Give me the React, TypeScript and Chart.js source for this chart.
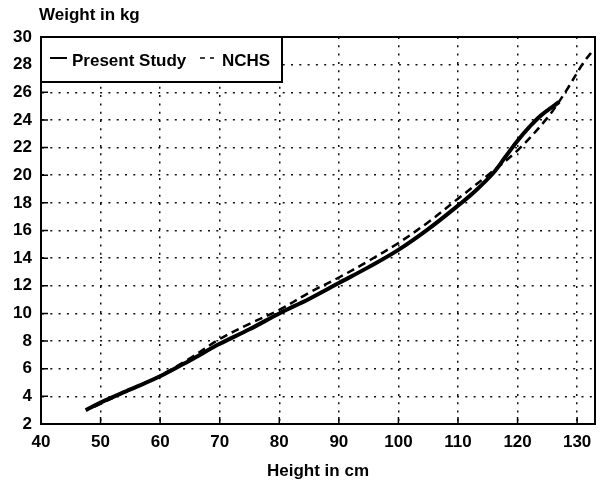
import React, { useEffect, useRef } from "react";
import { Chart, registerables } from "chart.js";

Chart.register(...registerables);

const studyHeights = [47.5, 50, 55, 60, 65, 70, 75, 80, 85, 90, 95, 100, 105, 110, 113, 116, 118, 120, 122, 124, 127];
const studyWeights = [3.0, 3.55, 4.5, 5.45, 6.6, 7.8, 8.85, 10.0, 11.05, 12.2, 13.35, 14.6, 16.1, 17.8, 18.9, 20.2, 21.35, 22.5, 23.5, 24.35, 25.3];

const nchsHeights = [49, 55, 60, 65, 70, 75, 80, 85, 90, 95, 100, 105, 110, 115, 120, 125, 128, 131, 132.8];
const nchsWeights = [3.25, 4.5, 5.5, 6.75, 8.15, 9.25, 10.25, 11.5, 12.6, 13.8, 15.1, 16.6, 18.3, 20.0, 21.8, 24.15, 26.0, 28.1, 29.1];

const xRange = [40, 133];
const yRange = [2, 30];
const xStep = 10;
const yStep = 2;

const legendLabels = ["Present Study", "NCHS"];
const xTitle = "Height in cm";
const yTitle = "Weight in kg";

const FONT_FAMILY = '"Liberation Sans", Arial, Helvetica, sans-serif';
const FONT = `bold 17px ${FONT_FAMILY}`;

const decorPlugin = {
  id: "decor",
  afterDraw(chart: any) {
    const ctx = chart.ctx as CanvasRenderingContext2D;
    const { left, right, top, bottom } = chart.chartArea;
    const xs = chart.scales.x;
    const ys = chart.scales.y;
    ctx.save();
    ctx.strokeStyle = "#000";
    ctx.fillStyle = "#000";
    ctx.setLineDash([]);

    // inner tick marks
    ctx.lineWidth = 1.5;
    ctx.beginPath();
    for (let v = yRange[0]; v <= yRange[1]; v += yStep) {
      const py = ys.getPixelForValue(v);
      ctx.moveTo(left, py);
      ctx.lineTo(left + 7, py);
    }
    for (let v = xRange[0]; v <= xRange[1]; v += xStep) {
      const px = xs.getPixelForValue(v);
      ctx.moveTo(px, bottom);
      ctx.lineTo(px, bottom - 7);
    }
    ctx.stroke();

    // frame
    ctx.lineWidth = 2;
    ctx.strokeRect(left, top, right - left, bottom - top);

    // legend box
    const lx = left, ly = top, lw = 241, lh = 45;
    ctx.fillStyle = "#fff";
    ctx.fillRect(lx, ly, lw, lh);
    ctx.fillStyle = "#000";
    ctx.lineWidth = 2;
    ctx.strokeRect(lx, ly, lw, lh);

    const midY = ly + 21;
    ctx.lineWidth = 2;
    ctx.beginPath();
    ctx.moveTo(lx + 9, midY);
    ctx.lineTo(lx + 26, midY);
    ctx.stroke();

    ctx.font = FONT;
    ctx.textBaseline = "alphabetic";
    ctx.textAlign = "left";
    ctx.fillText(legendLabels[0], lx + 31, ly + 29);

    ctx.lineWidth = 1.5;
    ctx.beginPath();
    ctx.moveTo(lx + 159, midY);
    ctx.lineTo(lx + 164, midY);
    ctx.moveTo(lx + 169, midY);
    ctx.lineTo(lx + 173, midY);
    ctx.stroke();
    ctx.fillText(legendLabels[1], lx + 181, ly + 29);

    // axis titles
    ctx.fillText(yTitle, 39, 20);
    ctx.textAlign = "center";
    ctx.fillText(xTitle, (left + right) / 2, 476);

    ctx.restore();
  },
};

export default function App() {
  const canvasRef = useRef<HTMLCanvasElement | null>(null);

  useEffect(() => {
    if (!canvasRef.current) return;
    const studyData = studyHeights.map((h, i) => ({ x: h, y: studyWeights[i] }));
    const nchsData = nchsHeights.map((h, i) => ({ x: h, y: nchsWeights[i] }));

    const gridStyle = {
      color: "#111",
      lineWidth: 1.5,
      drawTicks: false,
    };
    const borderStyle = { display: true, color: "#000", width: 2, dash: [2, 6.3] };

    const chart = new Chart(canvasRef.current, {
      type: "line",
      data: {
        datasets: [
          {
            label: legendLabels[0],
            data: studyData,
            borderColor: "#000",
            borderWidth: 4,
            pointRadius: 0,
            tension: 0.35,
            fill: false,
          },
          {
            label: legendLabels[1],
            data: nchsData,
            borderColor: "#000",
            borderWidth: 2.5,
            borderDash: [8, 5],
            pointRadius: 0,
            tension: 0.35,
            fill: false,
          },
        ],
      },
      options: {
        animation: false,
        responsive: false,
        maintainAspectRatio: false,
        layout: { padding: { left: 0, top: 37, right: 7, bottom: 0 } },
        plugins: {
          legend: { display: false },
          tooltip: { enabled: false },
        },
        scales: {
          x: {
            type: "linear",
            min: xRange[0],
            max: xRange[1],
            border: borderStyle,
            grid: gridStyle,
            ticks: {
              stepSize: xStep,
              includeBounds: false,
              color: "#000",
              padding: 8,
              maxRotation: 0,
              autoSkip: false,
              font: { family: FONT_FAMILY, size: 17, weight: "bold" },
            },
            afterFit(scale: any) {
              scale.height = 59;
            },
          },
          y: {
            type: "linear",
            min: yRange[0],
            max: yRange[1],
            border: borderStyle,
            grid: gridStyle,
            ticks: {
              stepSize: yStep,
              color: "#000",
              padding: 9,
              autoSkip: false,
              font: { family: FONT_FAMILY, size: 17, weight: "bold" },
            },
            afterFit(scale: any) {
              scale.width = 41;
            },
          },
        },
      } as any,
      plugins: [decorPlugin],
    });

    return () => chart.destroy();
  }, []);

  return (
    <div style={{ position: "fixed", left: 0, top: 0, width: 602, height: 483, background: "#fff" }}>
      <canvas ref={canvasRef} width={602} height={483} style={{ width: 602, height: 483 }} />
    </div>
  );
}
